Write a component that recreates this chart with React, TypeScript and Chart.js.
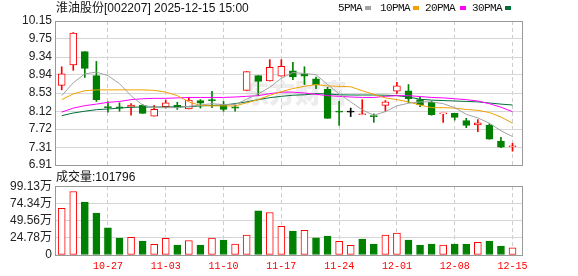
import React, { useEffect, useRef } from "react";
import { Chart, registerables } from "chart.js";

Chart.register(...registerables);

// ---- data ----
const dates = [
  "10-21", "10-22", "10-23", "10-24", "10-27", "10-28", "10-29", "10-30", "10-31",
  "11-03", "11-04", "11-05", "11-06", "11-07", "11-10", "11-11", "11-12", "11-13", "11-14",
  "11-17", "11-18", "11-19", "11-20", "11-21", "11-24", "11-25", "11-26", "11-27", "11-28",
  "12-01", "12-02", "12-03", "12-04", "12-05", "12-08", "12-09", "12-10", "12-11", "12-12",
  "12-15",
];
const weekTickIdx = [4, 9, 14, 19, 24, 29, 34, 39];

const openP = [
  8.7, 9.16, 9.46, 8.92, 8.22, 8.22, 8.21, 8.25, 8.01, 8.22,
  8.25, 8.17, 8.36, 8.38, 8.27, 8.22, 8.59, 8.92, 8.8, 8.91,
  9.03, 8.96, 8.85, 8.61, 8.12, 8.1, 8.04, 8.01, 8.25, 8.57,
  8.58, 8.38, 8.32, 8.06, 8.07, 7.91, 7.81, 7.81, 7.45, 7.32,
];
const highP = [
  9.12, 9.89, 9.46, 9.24, 8.33, 8.31, 8.29, 8.27, 8.25, 8.37,
  8.32, 8.43, 8.38, 8.57, 8.34, 8.25, 9.01, 8.92, 9.28, 9.28,
  9.22, 9.12, 8.89, 8.66, 8.34, 8.19, 8.38, 8.06, 8.36, 8.77,
  8.72, 8.43, 8.35, 8.06, 8.07, 7.96, 7.93, 7.84, 7.53, 7.4,
];
const lowP = [
  8.6, 9.04, 8.88, 8.34, 8.1, 8.12, 8.03, 8.07, 8.01, 8.19,
  8.16, 8.17, 8.19, 8.2, 8.12, 8.12, 8.59, 8.47, 8.8, 8.91,
  8.83, 8.72, 8.63, 7.96, 7.8, 8.0, 8.04, 7.87, 8.12, 8.52,
  8.31, 8.22, 8.03, 7.87, 7.92, 7.75, 7.66, 7.49, 7.3, 7.22,
];
const closeP = [
  8.96, 9.88, 9.085, 8.38, 8.2, 8.19, 8.26, 8.07, 8.16, 8.31,
  8.2, 8.37, 8.3, 8.35, 8.16, 8.19, 9.01, 8.79, 9.11, 9.13,
  8.89, 8.91, 8.72, 7.96, 8.1, 8.1, 8.06, 8.0, 8.33, 8.69,
  8.4, 8.27, 8.04, 8.06, 7.98, 7.8, 7.86, 7.49, 7.31, 7.32,
];
// volume in 万
const volume = [
  67.1, 91.5, 76.1, 60.3, 39.3, 24.4, 25.4, 20.1, 15.3, 24.0,
  14.4, 20.6, 14.4, 24.4, 21.5, 15.8, 28.7, 63.7, 61.3, 41.2,
  34.5, 35.4, 24.9, 27.3, 19.6, 13.9, 23.0, 15.8, 28.7, 31.6,
  21.5, 14.4, 15.8, 14.4, 15.8, 15.8, 18.2, 20.1, 12.9, 10.18,
];
const ma5 = [
  8.47, 8.76, 8.96, 9.0, 8.92, 8.74, 8.47, 8.26, 8.2, 8.2,
  8.2, 8.23, 8.26, 8.29, 8.27, 8.27, 8.39, 8.51, 8.66, 8.86,
  8.99, 8.97, 8.94, 8.72, 8.51, 8.33, 8.15, 8.03, 8.11, 8.24,
  8.3, 8.33, 8.33, 8.29, 8.2, 8.05, 7.97, 7.85, 7.68, 7.55,
];
const ma10 = [
  8.38, 8.51, 8.58, 8.6, 8.6, 8.6, 8.6, 8.6, 8.59, 8.55,
  8.47, 8.33, 8.25, 8.24, 8.24, 8.24, 8.31, 8.38, 8.48, 8.56,
  8.63, 8.68, 8.72, 8.69, 8.68, 8.67, 8.58, 8.5, 8.42, 8.38,
  8.33, 8.26, 8.2, 8.2, 8.19, 8.16, 8.14, 8.09, 7.99, 7.85,
];
const ma20 = [
  8.1, 8.19, 8.245, 8.28, 8.32, 8.34, 8.38, 8.4, 8.41, 8.41,
  8.42, 8.43, 8.43, 8.43, 8.43, 8.44, 8.455, 8.47, 8.515, 8.55,
  8.55, 8.53, 8.5, 8.47, 8.455, 8.44, 8.43, 8.43, 8.455, 8.47,
  8.47, 8.45, 8.43, 8.42, 8.4, 8.38, 8.35, 8.29, 8.21, 8.11,
];
const ma30 = [
  8.02, 8.08, 8.12, 8.155, 8.17, 8.19, 8.21, 8.215, 8.215, 8.215,
  8.22, 8.22, 8.24, 8.25, 8.26, 8.29, 8.33, 8.38, 8.425, 8.455,
  8.48, 8.49, 8.515, 8.51, 8.49, 8.485, 8.485, 8.485, 8.48, 8.47,
  8.44, 8.39, 8.37, 8.36, 8.35, 8.34, 8.33, 8.305, 8.28, 8.26,
];
const priceTicks = [10.15, 9.75, 9.34, 8.94, 8.53, 8.12, 7.72, 7.31, 6.91];
const volTicks = [0, 24.78, 49.56, 74.34, 99.13];

const maSeries = [
  { name: "5PMA", values: ma5, color: "#a3a3a3" },
  { name: "10PMA", values: ma10, color: "#f0a000" },
  { name: "20PMA", values: ma20, color: "#ff00ff" },
  { name: "30PMA", values: ma30, color: "#00703a" },
];

// ---- styles ----
const RED = "#ff0000";
const GREEN = "#008000";
const BLACK = "#000000";
const X_MIN = -0.58;
const X_MAX = 39.82;

function candleColor(i: number): string {
  const o = openP[i];
  const c = closeP[i];
  if (c > o) return RED;
  if (c < o) return GREEN;
  const pc = i > 0 ? closeP[i - 1] : o;
  return c > pc ? RED : c < pc ? GREEN : BLACK;
}
function volColor(i: number): string {
  const pc = i > 0 ? closeP[i - 1] : openP[i];
  return closeP[i] >= pc ? RED : GREEN;
}

const framePlugin = {
  id: "frame",
  afterDraw(chart: any) {
    const { ctx, chartArea: a } = chart;
    ctx.save();
    ctx.strokeStyle = "#999999";
    ctx.lineWidth = 1;
    ctx.strokeRect(
      Math.round(a.left) + 0.5,
      Math.round(a.top) + 0.5,
      Math.round(a.right - a.left),
      Math.round(a.bottom - a.top)
    );
    ctx.restore();
  },
};

const tickFont = { family: '"Liberation Sans", Arial, "Noto Sans CJK SC"', size: 12 };

function xScale(showLabels: boolean, height: number) {
  return {
    type: "linear",
    min: X_MIN,
    max: X_MAX,
    offset: false,
    afterBuildTicks: (s: any) => {
      s.ticks = weekTickIdx.map((v) => ({ value: v }));
    },
    afterFit: (s: any) => {
      s.height = height;
    },
    ticks: {
      display: showLabels,
      autoSkip: false,
      maxRotation: 0,
      padding: 5,
      color: RED,
      font: { family: '"Liberation Mono", "DejaVu Sans Mono", monospace', size: 10 },
      callback: (v: any) => dates[v as number] ?? "",
    },
    grid: { color: "#cccccc", drawTicks: false, offset: false, lineWidth: 1 },
    border: { display: false, dash: [4, 3] },
  };
}

export default function App() {
  const priceRef = useRef<HTMLCanvasElement>(null);
  const volRef = useRef<HTMLCanvasElement>(null);

  useEffect(() => {
    const idx = closeP.map((_, i) => i);
    const cColors = idx.map(candleColor);
    const cFills = cColors.map((c) => (c === RED ? "#ffffff" : c));

    const priceChart = new Chart(priceRef.current as HTMLCanvasElement, {
      type: "bar",
      data: {
        datasets: [
          ...maSeries.map((m) => ({
            type: "line" as const,
            label: m.name,
            data: m.values.map((y, i) => ({ x: i, y })),
            borderColor: m.color,
            borderWidth: 1,
            pointRadius: 0,
            tension: 0,
            fill: false,
            order: 0,
          })),
          {
            type: "bar" as const,
            label: "wick",
            data: idx.map((i) => ({ x: i, y: [lowP[i], highP[i]] })),
            backgroundColor: cColors,
            barThickness: 1,
            grouped: false,
            order: 3,
          },
          {
            type: "bar" as const,
            label: "body",
            data: idx.map((i) => ({ x: i, y: [openP[i], closeP[i]] })),
            backgroundColor: cFills,
            borderColor: cColors,
            borderWidth: 1,
            borderSkipped: false,
            barThickness: 7,
            minBarLength: 1,
            grouped: false,
            order: 2,
          },
        ] as any,
      },
      options: {
        animation: false,
        responsive: false,
        maintainAspectRatio: false,
        layout: { padding: { top: 21, right: 56, bottom: 0, left: 0 } },
        plugins: { legend: { display: false }, tooltip: { enabled: false }, title: { display: false } },
        scales: {
          x: xScale(false, 11) as any,
          y: {
            type: "linear",
            min: 6.91,
            max: 10.15,
            beginAtZero: false,
            afterBuildTicks: (s: any) => {
              s.ticks = priceTicks.map((v) => ({ value: v }));
            },
            afterFit: (s: any) => {
              s.width = 55;
            },
            ticks: {
              autoSkip: false,
              color: "#222222",
              font: tickFont,
              padding: 3,
              callback: (v: any) => Number(v).toFixed(2),
            },
            grid: { color: "#d6d6d6", drawTicks: false },
            border: { display: false },
          },
        },
      },
      plugins: [framePlugin],
    });

    const vColors = idx.map(volColor);
    const vFills = vColors.map((c) => (c === RED ? "#ffffff" : c));
    const volChart = new Chart(volRef.current as HTMLCanvasElement, {
      type: "bar",
      data: {
        datasets: [
          {
            label: "成交量",
            data: volume.map((v, i) => ({ x: i, y: v })) as any,
            backgroundColor: vFills,
            borderColor: vColors,
            borderWidth: 1,
            borderSkipped: false,
            barThickness: 7,
            grouped: false,
          },
        ],
      },
      options: {
        animation: false,
        responsive: false,
        maintainAspectRatio: false,
        layout: { padding: { top: 10, right: 56, bottom: 0, left: 0 } },
        plugins: { legend: { display: false }, tooltip: { enabled: false } },
        scales: {
          x: xScale(true, 21) as any,
          y: {
            type: "linear",
            min: 0,
            max: 99.13,
            afterBuildTicks: (s: any) => {
              s.ticks = volTicks.map((v) => ({ value: v }));
            },
            afterFit: (s: any) => {
              s.width = 55;
            },
            ticks: {
              autoSkip: false,
              color: "#222222",
              font: tickFont,
              padding: 3,
              callback: (v: any) => (Number(v) === 0 ? "0" : Number(v).toFixed(2) + "万"),
            },
            grid: { color: "#d6d6d6", drawTicks: false },
            border: { display: false },
          },
        },
      },
      plugins: [framePlugin],
    });

    return () => {
      priceChart.destroy();
      volChart.destroy();
    };
  }, []);

  const textFont = '"Liberation Sans", Arial, "Noto Sans CJK SC", sans-serif';
  const legendPos = [338, 380, 425, 472];
  const boxPos = [365, 413, 460, 505];

  return (
    <div
      style={{
        position: "absolute",
        left: 0,
        top: 0,
        width: 578,
        height: 276,
        background: "#ffffff",
        overflow: "hidden",
      }}
    >
      <div
        style={{
          position: "absolute",
          left: 243,
          top: 74,
          fontFamily: '"Noto Sans CJK SC", sans-serif',
          fontWeight: 900,
          fontSize: 26,
          lineHeight: "36px",
          color: "#ececec",
          whiteSpace: "nowrap",
        }}
      >
        东方财富
      </div>
      <canvas
        ref={priceRef}
        width={578}
        height={176}
        style={{ position: "absolute", left: 0, top: 0, width: 578, height: 176 }}
      />
      <canvas
        ref={volRef}
        width={578}
        height={100}
        style={{ position: "absolute", left: 0, top: 176, width: 578, height: 100 }}
      />
      <div
        style={{
          position: "absolute",
          left: 56,
          top: 1,
          fontFamily: textFont,
          fontSize: 12,
          lineHeight: "14px",
          color: "#111111",
          whiteSpace: "nowrap",
        }}
      >
        淮油股份[002207] 2025-12-15 15:00
      </div>
      {maSeries.map((m, k) => (
        <React.Fragment key={m.name}>
          <div
            style={{
              position: "absolute",
              left: legendPos[k],
              top: 2,
              fontFamily: '"Liberation Mono", "DejaVu Sans Mono", monospace',
              fontSize: 11,
              letterSpacing: -0.6,
              lineHeight: "12px",
              color: "#111111",
              whiteSpace: "nowrap",
            }}
          >
            {m.name}
          </div>
          <div
            style={{
              position: "absolute",
              left: boxPos[k],
              top: 6,
              width: 6,
              height: 4,
              background: m.color,
            }}
          />
        </React.Fragment>
      ))}
      <div
        style={{
          position: "absolute",
          left: 56,
          top: 170,
          fontFamily: textFont,
          fontSize: 12,
          lineHeight: "14px",
          color: "#111111",
          whiteSpace: "nowrap",
        }}
      >
        成交量:101796
      </div>
    </div>
  );
}
